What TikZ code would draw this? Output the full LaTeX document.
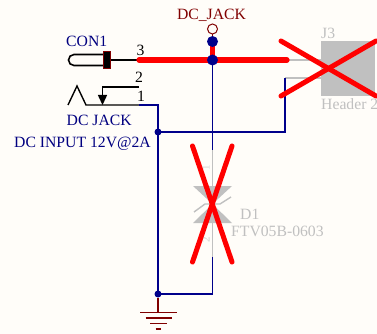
\documentclass[tikz,border=0pt]{standalone}
\usepackage{fontspec}
\setmainfont{Liberation Serif}
\definecolor{bg}{HTML}{FFFDF9}
\definecolor{wireblue}{HTML}{00008B}
\definecolor{dred}{HTML}{800000}
\definecolor{ghost}{HTML}{C0C0C0}
\definecolor{txtblue}{HTML}{000080}
\begin{document}
\begin{tikzpicture}[x=1pt,y=-1pt,
  wire/.style={draw=wireblue,line width=1.5pt},
  pinw/.style={draw=black,line width=1.4pt},
  gwire/.style={draw=ghost,line width=1.4pt},
  redx/.style={draw=red,line width=5pt,line cap=round},
  dot/.style={circle,fill=wireblue,inner sep=0pt,minimum size=#1},
  lbl/.style={inner sep=0pt,anchor=base west,font=\fontsize{15.7}{16}\selectfont},
  lb/.style={lbl,text=txtblue},
  lg/.style={lbl,text=ghost},
  lk/.style={lbl,text=black}]
\useasboundingbox[fill=bg] (0,0) rectangle (377,334);
% coordinates
\coordinate (p3) at (139,60);
\coordinate (r3) at (287,60);
\coordinate (p2) at (139,87);
\coordinate (p1) at (139,105);
\coordinate (c1) at (158,105);
\coordinate (c2) at (285,132);
\coordinate (c3) at (285,78);
\coordinate (j3a) at (321,60);
\coordinate (j3b) at (321,78);
\coordinate (dt) at (212.5,150);
\coordinate (db) at (212.5,257);
\coordinate (dc) at (212.5,294);
\coordinate (gt) at (158,312.7);
% J3
\draw[gwire] (r3) -- (j3a);
\draw[gwire] (c3) -- (j3b);
\node[fill=ghost,inner sep=0pt,minimum width=54pt,minimum height=55pt] (j3) at (348,68.3) {};
\node[lg] (j3t) at (321,39) {J3};
\node[lg] (j3v) at (321,110) {Header 2};
% CON1
\draw[pinw,line width=1.6pt] (105,54.5) -- (74,54.5) arc[start angle=270,end angle=90,radius=5.5] -- (105,65.5);
\node[draw=dred,fill=black,line width=0.9pt,inner sep=0pt,minimum width=6.5pt,minimum height=17.5pt] (con) at (107,60) {};
\draw[pinw] (con) -- (p3);
\node[lb] (con1) at (66,47) {CON1};
\node[lk] (n3) at (136.5,55.5) {3};
\node[lk] (n2) at (135,83) {2};
\node[lk] (n1) at (137,102) {1};
% jack
\draw[pinw] (p2) -- (102.5,87) -- (102.5,96);
\fill[black] (97.8,95) -- (107.2,95) -- (102.5,105) -- cycle;
\draw[pinw] (68,105) -- (77,86) -- (86,105) -- (p1);
\node[lb] (jk) at (66.5,125) {DC JACK};
\node[lb] (inp) at (14,147) {DC INPUT 12V@2A};
% red net
\draw[draw=red,line width=5pt] (212.5,60) -- (212.5,41.5);
\draw[draw=red,line width=5.2pt,line cap=round] (p3) -- (r3);
% blue nets
\draw[wire] (p1) -- (c1) -- (158,294);
\draw[wire] (158,132) -- (c2) -- (c3);
\draw[wire] (212.5,60) -- (dt);
\draw[gwire] (dt) -- (db);
\draw[wire] (db) -- (dc) -- (158,294);
% power port
\node[circle,draw=dred,fill=bg,line width=1pt,inner sep=0pt,minimum size=10pt] (pp) at (212.5,29) {};
\draw[draw=dred,line width=1pt] (pp) -- (212.5,36);
\node[inner sep=0pt,anchor=base,text=dred,font=\fontsize{15.7}{16}\selectfont] (ppl) at (211.5,20) {DC\_JACK};
\node[dot=11pt] (d1) at (212.5,41.5) {};
\node[dot=11pt] (d2) at (212.5,60) {};
\node[dot=7pt] (d3) at (158,132) {};
\node[dot=7pt] (d4) at (158,294) {};
% TVS
\fill[ghost] (193,186) -- (232,186) -- (212.5,204) -- cycle;
\fill[ghost] (193,223) -- (232,223) -- (212.5,204) -- cycle;
\draw[gwire] (194,212) -- (205,204) -- (220,204) -- (231,197);
\node[inner sep=0pt,rotate=90,text=ghost!60!bg,font=\fontsize{11}{12}\selectfont] (dp1) at (206,168) {1};
\node[inner sep=0pt,rotate=90,text=ghost!80!bg,font=\fontsize{11}{12}\selectfont] (dp2) at (206,240) {2};
\node[lg] (dn) at (240,219) {D1};
\node[lg] (dv) at (231,236.6) {FTV05B-0603};
% ground
\draw[draw=dred,line width=1.3pt] (d4) -- (gt);
\draw[draw=dred,line width=1.5pt] (140,312.7) -- (177,312.7);
\draw[draw=dred,line width=1.5pt] (145.5,318.2) -- (171.5,318.2);
\draw[draw=dred,line width=1.5pt] (150,323.7) -- (167,323.7);
\draw[draw=dred,line width=1.5pt] (155.5,329) -- (161,329);
% crosses
\draw[redx] (281,41) -- (376,96);
\draw[redx] (281,96) -- (376,41);
\draw[redx] (192.5,146) -- (232,262);
\draw[redx] (232,146) -- (192.5,262);
\end{tikzpicture}
\end{document}
